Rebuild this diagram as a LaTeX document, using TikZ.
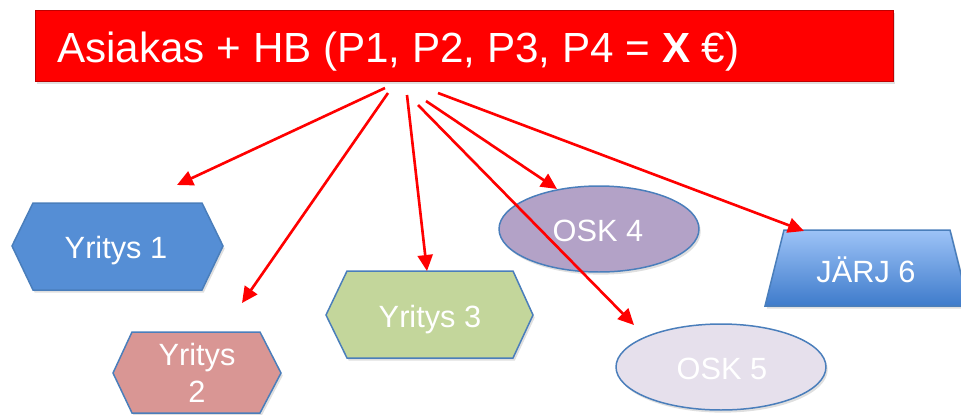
\documentclass[tikz,border=0pt]{standalone}
\usepackage{fontspec}
\setmainfont{Liberation Sans}
\usetikzlibrary{arrows.meta,shadows}

\definecolor{hdrred}{HTML}{FF0000}
\definecolor{edgeblue}{HTML}{4A7EBB}
\definecolor{firmblue}{HTML}{558ED5}
\definecolor{firmpink}{HTML}{D99694}
\definecolor{firmgreen}{HTML}{C3D69B}
\definecolor{oskviolet}{HTML}{B3A2C7}
\definecolor{osklight}{HTML}{E6E0EC}
\definecolor{orgtop}{HTML}{9DC3F7}
\definecolor{orgbot}{HTML}{3E7BCB}

\tikzset{shapebox/.style={draw=edgeblue, line width=0.85pt, drop shadow={shadow xshift=1pt, shadow yshift=-1.5pt, opacity=0.25}},
	shapetext/.style={text=white, inner sep=0pt, font=\fontsize{17.5}{21}\selectfont},
	redarrow/.style={draw=red, line width=1.5pt, -{Triangle[length=0.32cm, width=0.3cm]}}}

\begin{document}
\begin{tikzpicture}[x=0.02cm, y=-0.02cm]
	\useasboundingbox (0,0) rectangle (961,414);
	% header
	\node[draw=hdrred!75!black, fill=hdrred, line width=0.4pt, minimum width=17.16cm, minimum height=1.42cm, drop shadow={shadow xshift=1pt, shadow yshift=-1.5pt, opacity=0.25}] (hdr) at (464,45.5) {};
	\node[text=white, inner sep=0pt, anchor=base west, font=\fontsize{24}{29}\selectfont] (hdrtext) at (57,62) {Asiakas + HB (P1, P2, P3, P4 = \textbf{X} €)};
	% firms and others
	\draw[shapebox, fill=firmblue] (12,246) -- (33,203) -- (202,203) -- (223,246) -- (202,290) -- (33,290) -- cycle;
	\node[shapetext, anchor=base] (y1) at (116,258) {Yritys 1};
	\draw[shapebox, fill=firmpink] (113,373) -- (132,332) -- (260,332) -- (281,373) -- (260,413) -- (132,413) -- cycle;
	\node[shapetext, align=center] (y2) at (197,373) {Yritys\\2};
	\draw[shapebox, fill=firmgreen] (326,315) -- (347,271) -- (513,271) -- (533,315) -- (513,358) -- (347,358) -- cycle;
	\node[shapetext, anchor=base] (y3) at (430,327) {Yritys 3};
	\draw[shapebox, fill=oskviolet] (599,229) ellipse [x radius=2cm, y radius=0.86cm];
	\node[shapetext, anchor=base] (osk4) at (598,241) {OSK 4};
	\draw[shapebox, fill=osklight] (721,367) ellipse [x radius=2.1cm, y radius=0.86cm];
	\node[shapetext, anchor=base] (osk5) at (722,379) {OSK 5};
	\draw[shapebox, top color=orgtop, bottom color=orgbot] (784,230) -- (950,230) -- (969,306) -- (765,306) -- cycle;
	\node[shapetext, anchor=base] (jarj6) at (866,282) {JÄRJ 6};
	% arrows
	\coordinate (s1) at (385,88);  \coordinate (e1) at (177,185);
	\coordinate (s2) at (388,93);  \coordinate (e2) at (242,303);
	\coordinate (s3) at (407,95);  \coordinate (e3) at (427,271);
	\coordinate (s4) at (426,101); \coordinate (e4) at (557,189);
	\coordinate (s5) at (418,105); \coordinate (e5) at (634,325);
	\coordinate (s6) at (438,93);  \coordinate (e6) at (804,231);
	\draw[redarrow] (s1) -- (e1);
	\draw[redarrow] (s2) -- (e2);
	\draw[redarrow] (s3) -- (e3);
	\draw[redarrow] (s4) -- (e4);
	\draw[redarrow] (s5) -- (e5);
	\draw[redarrow] (s6) -- (e6);
\end{tikzpicture}
\end{document}
